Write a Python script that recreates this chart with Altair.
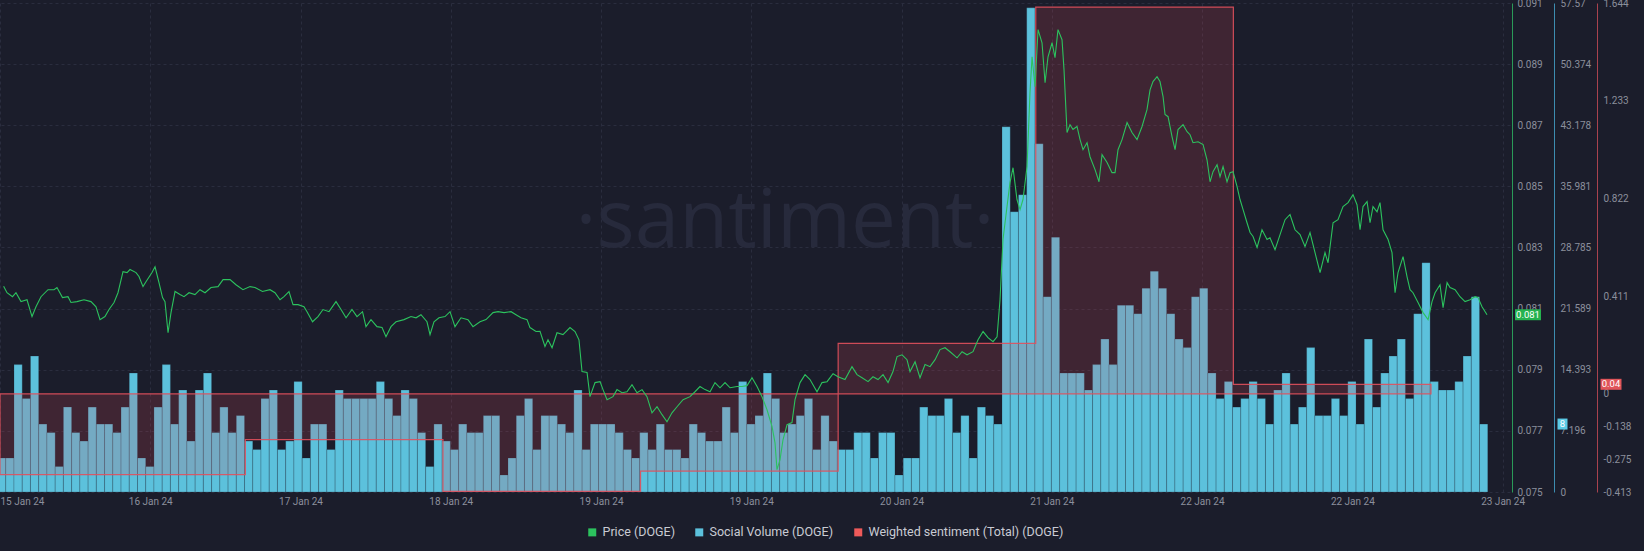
import altair as alt
import pandas as pd

# ---------------- data ----------------
# Social volume (DOGE), hourly bars, first bar = hour 0
volume = [
    4, 4, 15, 11, 16, 8, 7, 3, 10, 7, 6, 10, 8, 8, 7, 10, 14, 4, 3, 10,
    15, 8, 12, 6, 12, 14, 7, 10, 7, 9, 6, 5, 11, 12, 5, 6, 13,
    4, 8, 8, 5, 12, 11, 11, 11, 11, 13, 11, 9, 12, 11, 7, 3, 8, 6, 5,
    8, 7, 7, 9, 9, 2, 4, 9, 11, 5, 9, 9, 8, 7, 12, 5, 8,
    8, 8, 7, 5, 4, 7, 5, 8, 5, 5, 4, 8, 7, 6, 6, 10, 7, 13, 8, 9,
    14, 11, 7, 8, 9, 11, 5, 9, 6, 5, 5, 7, 7, 4, 7, 7, 2,
    4, 4, 10, 9, 9, 11, 7, 9, 4, 10, 9, 8, 43, 33, 35, 57, 41, 23, 30, 14,
    14, 14, 12, 15, 18, 15, 22, 22, 21, 24, 26, 24, 21, 18, 17, 23,
    24, 14, 11, 13, 10, 11, 13, 11, 8, 12, 14, 8, 10, 17, 9, 9, 11, 9, 13, 8,
    18, 10, 14, 16, 18, 11, 21, 27, 13, 12, 12, 13, 16, 23, 8,
]

# Price (DOGE): time in hours since the first bar, price in USD
price_hours = [
    0.24, 0.65, 1.32, 1.74, 2.35, 3.08, 3.69, 4.17, 4.78, 5.63, 6.36, 6.72, 7.39, 8.06, 8.42,
    9.15, 10.00, 10.85, 11.46, 11.95, 12.55, 13.04, 13.65, 14.13, 14.74, 15.23, 15.59, 16.32,
    16.68, 17.17, 17.53, 18.26, 18.63, 19.11, 19.54, 19.84, 20.21, 20.57, 21.06, 21.66, 22.15,
    22.76, 23.48, 24.09, 24.70, 25.43, 26.28, 26.89, 27.74, 28.46, 29.31, 30.17, 30.77, 31.68,
    32.59, 33.20, 33.81, 34.29, 34.90, 35.39, 36.00, 36.72, 37.09, 37.76, 38.42, 39.03, 39.76,
    40.61, 41.22, 41.83, 42.55, 43.16, 43.83, 44.25, 44.86, 45.59, 46.20, 46.68, 47.29, 47.90,
    48.87, 49.72, 50.33, 50.93, 51.66, 52.03, 52.51, 53.12, 53.85, 54.46, 55.06, 55.79, 56.64,
    57.25, 58.10, 58.83, 59.68, 60.29, 61.02, 61.87, 62.47, 63.08, 63.81, 64.17, 64.90,
    65.39, 65.99, 66.36, 66.85, 67.45, 68.18, 69.03, 69.64, 70.12, 70.49, 71.10, 71.46, 72.07,
    72.68, 73.04, 73.53, 74.25, 74.74, 75.35, 75.95, 76.56, 77.17, 77.78, 78.38, 78.99, 79.60,
    80.21, 80.81, 81.42, 82.03, 82.76, 83.61, 84.21, 84.82, 85.43, 86.04, 86.64, 87.25, 87.86,
    88.47, 89.32, 89.92, 90.53, 91.14, 91.75, 92.35, 92.96, 93.57, 93.93, 94.17, 94.54, 94.90,
    95.39, 95.99, 96.36, 96.97, 97.58, 98.18, 99.03, 99.64, 100.25, 100.98, 101.58, 102.43,
    103.28, 103.89, 104.50, 105.23, 105.83, 106.44, 107.05, 107.66, 108.26, 108.75, 109.36,
    109.96, 110.33, 110.94, 111.54, 112.15, 112.76, 113.37, 113.97, 114.58, 115.19, 116.04,
    116.65, 117.25, 117.98, 118.59, 119.20, 119.80, 120.41, 120.90,
    121.26, 121.62, 122.11, 122.47, 122.84, 123.32, 123.69, 124.05, 124.54, 124.90, 125.15,
    125.51, 125.88, 126.36, 126.73, 127.09, 127.58, 127.94, 128.30, 128.79, 129.03, 129.40,
    129.76, 130.12, 130.61, 130.98, 131.34, 131.83, 132.19, 132.80, 133.28, 133.65, 134.26,
    134.86, 135.23, 135.59, 136.08, 136.69, 137.29, 137.90, 138.51, 139.11, 139.48, 139.84,
    140.33, 140.69, 141.06, 141.30, 141.67, 142.15, 142.52, 142.88, 143.49, 143.98, 144.34,
    144.70, 145.31, 145.92, 146.40, 146.77, 147.13, 147.62, 147.98, 148.35, 148.83, 149.20,
    149.56, 150.05, 150.41, 150.78, 151.26, 151.63, 151.99, 152.48, 153.08, 153.69, 154.05,
    154.66, 155.27, 155.88, 156.48, 157.09, 157.70, 158.30, 158.91, 159.52, 160.13, 160.73,
    161.10, 161.71, 162.31, 162.92, 163.53, 164.13, 164.62, 164.99, 165.35, 165.84, 166.20,
    166.56, 167.05, 167.41, 167.78, 168.39, 168.87, 169.24, 169.60, 170.21, 170.69, 171.06,
    171.42, 172.03, 172.64, 173.25, 173.73, 174.10, 174.70, 175.07, 175.56, 175.92, 176.53,
    177.13, 177.74, 178.35, 178.96, 179.32, 179.80, 180.41,
]
price_values = [
    0.08173, 0.08152, 0.08139, 0.08152, 0.08123, 0.08129, 0.08074, 0.08106, 0.08139, 0.08162,
    0.08162, 0.08169, 0.08136, 0.08139, 0.08120, 0.08123, 0.08129, 0.08123, 0.08106, 0.08064,
    0.08074, 0.08097, 0.08120, 0.08152, 0.08221, 0.08218, 0.08228, 0.08218, 0.08205, 0.08172,
    0.08188, 0.08218, 0.08237, 0.08185, 0.08136, 0.08123, 0.08021, 0.08087, 0.08156, 0.08146,
    0.08139, 0.08152, 0.08146, 0.08162, 0.08152, 0.08169, 0.08172, 0.08195, 0.08195, 0.08178,
    0.08162, 0.08172, 0.08169, 0.08156, 0.08162, 0.08152, 0.08129, 0.08139, 0.08156, 0.08113,
    0.08113, 0.08106, 0.08090, 0.08057, 0.08074, 0.08097, 0.08090, 0.08123, 0.08097, 0.08070,
    0.08097, 0.08074, 0.08090, 0.08041, 0.08064, 0.08041, 0.08038, 0.08008, 0.08041, 0.08057,
    0.08064, 0.08074, 0.08070, 0.08080, 0.08057, 0.08015, 0.08057, 0.08070, 0.08074, 0.08090,
    0.08041, 0.08070, 0.08064, 0.08041, 0.08057, 0.08064, 0.08087, 0.08090, 0.08087, 0.08090,
    0.08080, 0.08070, 0.08064, 0.08038, 0.08025,
    0.08026, 0.07976, 0.07998, 0.07972, 0.08021, 0.08015, 0.08038, 0.08025, 0.07998, 0.07894,
    0.07891, 0.07812, 0.07858, 0.07861, 0.07835, 0.07802, 0.07812, 0.07835, 0.07825, 0.07828,
    0.07851, 0.07825, 0.07835, 0.07812, 0.07759, 0.07779, 0.07753, 0.07730, 0.07759, 0.07779,
    0.07802, 0.07812, 0.07828, 0.07845, 0.07835, 0.07828, 0.07858, 0.07841, 0.07858, 0.07841,
    0.07845, 0.07845, 0.07848, 0.07874, 0.07845, 0.07812, 0.07769, 0.07714, 0.07661, 0.07573,
    0.07606, 0.07671, 0.07720, 0.07727, 0.07802, 0.07858, 0.07884, 0.07868, 0.07828, 0.07858,
    0.07861, 0.07887, 0.07877, 0.07868, 0.07910, 0.07884, 0.07874, 0.07861, 0.07877, 0.07868,
    0.07884, 0.07858, 0.07894, 0.07943, 0.07949, 0.07933, 0.07894, 0.07926, 0.07874, 0.07917,
    0.07910, 0.07933, 0.07966, 0.07972, 0.07959, 0.07939, 0.07959, 0.07949, 0.07959, 0.07998,
    0.08025, 0.08005, 0.07992, 0.08008,
    0.08129, 0.08326, 0.08434, 0.08512, 0.08561, 0.08457, 0.08424, 0.08457, 0.08565, 0.08807,
    0.08924, 0.08826, 0.09013, 0.08970, 0.08839, 0.08924, 0.08970, 0.08921, 0.09013, 0.08980,
    0.08882, 0.08676, 0.08702, 0.08686, 0.08696, 0.08653, 0.08620, 0.08643, 0.08597, 0.08555,
    0.08515, 0.08604, 0.08578, 0.08545, 0.08545, 0.08620, 0.08653, 0.08709, 0.08676, 0.08653,
    0.08696, 0.08751, 0.08816, 0.08843, 0.08859, 0.08843, 0.08794, 0.08735, 0.08728, 0.08663,
    0.08620, 0.08686, 0.08702, 0.08679, 0.08669, 0.08643, 0.08646, 0.08637, 0.08587, 0.08515,
    0.08548, 0.08571, 0.08532, 0.08565, 0.08515, 0.08545, 0.08548, 0.08499, 0.08457, 0.08424,
    0.08381, 0.08349, 0.08336, 0.08300, 0.08358, 0.08326, 0.08332, 0.08293, 0.08342, 0.08391,
    0.08408, 0.08358, 0.08342, 0.08303, 0.08349, 0.08283, 0.08218, 0.08283, 0.08250, 0.08381,
    0.08391, 0.08434, 0.08447, 0.08473, 0.08440, 0.08358, 0.08434, 0.08450, 0.08381, 0.08434,
    0.08417, 0.08447, 0.08358, 0.08326, 0.08283, 0.08152, 0.08218, 0.08270, 0.08205, 0.08162,
    0.08152, 0.08120, 0.08087, 0.08064, 0.08123, 0.08152, 0.08178, 0.08103, 0.08185, 0.08169,
    0.08162, 0.08139, 0.08123, 0.08129, 0.08139, 0.08136, 0.08106, 0.08080,
]

# Weighted sentiment (Total): daily steps (start hour of each day, value)
sent_hours = [-0.2, 29.6, 53.6, 77.6, 101.6, 125.6, 149.6, 173.6]
sent_values = [-0.340, -0.193, -0.410, -0.325, 0.212, 1.627, 0.040, 0.040]

# axes
x_tick_hours = [-0.2, 18.05, 36.3, 54.55, 72.8, 91.05, 109.3, 127.55, 145.8, 164.05, 182.3]
x_tick_labels = ["15 Jan 24", "16 Jan 24", "17 Jan 24", "18 Jan 24", "19 Jan 24", "19 Jan 24",
                 "20 Jan 24", "21 Jan 24", "22 Jan 24", "22 Jan 24", "23 Jan 24"]
price_ticks = [0.075, 0.077, 0.079, 0.081, 0.083, 0.085, 0.087, 0.089, 0.091]
volume_ticks = [0, 7.196, 14.393, 21.589, 28.785, 35.981, 43.178, 50.374, 57.57]
sent_ticks = [-0.413, -0.275, -0.138, 0, 0.411, 0.822, 1.233, 1.644]

series_names = ["Price (DOGE)", "Social Volume (DOGE)", "Weighted sentiment (Total) (DOGE)"]

# ---------------- styling ----------------
BG = "#1b1d2b"
GREEN = "#2cc25e"
CYAN = "#5cc1dc"
RED = "#e0505c"
LABEL = "#8b8f9c"
FONT = "Roboto"

W, H = 1510, 489

x_scale = alt.Scale(domain=[-0.2, 183.2], nice=False, zero=False)
label_expr = " : ".join(
    f"abs(datum.value - ({t})) < 0.01 ? '{l}'" for t, l in zip(x_tick_hours, x_tick_labels)
) + " : ''"
x_axis = alt.Axis(values=x_tick_hours, labelExpr=label_expr, title=None, domain=False,
                  ticks=False, tickSize=0, labelPadding=4, labelColor=LABEL, labelFont=FONT,
                  labelFontSize=10, grid=True, gridColor="#2a2d3e", gridDash=[3, 3],
                  labelFlush=1, labelOverlap=False)

price_scale = alt.Scale(domain=[0.075, 0.091], nice=False, zero=False)
vol_scale = alt.Scale(domain=[0, 57.57], nice=False, zero=False)
sent_scale = alt.Scale(domain=[-0.413, 1.644], nice=False, zero=False)

def y_axis(values, offset, color, pad, grid=False):
    return alt.Axis(orient="right", values=values, offset=offset, title=None,
                    labelExpr="'' + datum.value", domainColor=color, domainWidth=1,
                    ticks=False, tickSize=0, labelPadding=pad, labelColor=LABEL,
                    labelFont=FONT, labelFontSize=10, labelFlush=False, labelOverlap=False,
                    grid=grid, gridColor="#2a2d3e", gridDash=[3, 3])

# ---------------- layers ----------------
vol_df = pd.DataFrame({"h": list(range(len(volume))), "v": volume})
price_df = pd.DataFrame({"h": price_hours, "p": price_values})
sent_df = pd.DataFrame({"h": sent_hours, "s": sent_values})

watermark = alt.Chart(pd.DataFrame({"t": ["·santiment·"]})).mark_text(
    fontSize=80, font="Open Sans", color="#272a3c", align="center", baseline="middle"
).encode(x=alt.value(785), y=alt.value(220), text="t:N")

bars = alt.Chart(vol_df).transform_calculate(
    x0="datum.h - 0.5", x1="datum.h + 0.5"
).mark_bar(color=CYAN, clip=True, stroke="#1b1d2b", strokeWidth=0.6, strokeOpacity=0.35).encode(
    x=alt.X("x0:Q", scale=x_scale, axis=x_axis),
    x2="x1:Q",
    y=alt.Y("v:Q", scale=vol_scale, axis=y_axis(volume_ticks, 44, "#3d8db0", 6)),
    y2=alt.datum(0),
)

area = alt.Chart(sent_df).mark_area(
    interpolate="step-after", fill="#e04858", fillOpacity=0.19,
    stroke=RED, strokeWidth=1.2, strokeOpacity=0.9, clip=True
).encode(
    x=alt.X("h:Q", scale=x_scale, axis=x_axis),
    y=alt.Y("s:Q", scale=sent_scale, axis=y_axis(sent_ticks, 87, "#a9424e", 6)),
    y2=alt.datum(0),
)

line = alt.Chart(price_df).mark_line(color=GREEN, strokeWidth=1.1, clip=True).encode(
    x=alt.X("h:Q", scale=x_scale, axis=x_axis),
    y=alt.Y("p:Q", scale=price_scale, axis=y_axis(price_ticks, 2, "#2a9a58", 5, grid=True)),
)

# last-value badges
pb = pd.DataFrame({"p": [price_values[-1]], "t": [f"{price_values[-1]:.3f}"]})
vb = pd.DataFrame({"v": [volume[-1]], "t": [str(volume[-1])]})
sb = pd.DataFrame({"s": [sent_values[-1]], "t": [f"{sent_values[-1]:.2f}"]})

def badge(df, field, scale, cx, w, color):
    box = alt.Chart(df).mark_tick(orient="horizontal", thickness=11, size=w, color=color,
                                  opacity=1).encode(
        x=alt.value(cx), y=alt.Y(f"{field}:Q", scale=scale, axis=None))
    txt = alt.Chart(df).mark_text(color="white", fontSize=9.5, font=FONT, align="center",
                                  baseline="middle").encode(
        x=alt.value(cx), y=alt.Y(f"{field}:Q", scale=scale, axis=None), text="t:N")
    return [box, txt]

badges = (badge(pb, "p", price_scale, 1528, 26, "#25b24f")
          + badge(vb, "v", vol_scale, 1562.5, 10, "#5ccbe6")
          + badge(sb, "s", sent_scale, 1611, 21, "#e0555a"))

legend_df = pd.DataFrame({"name": series_names})
legend_layer = alt.Chart(legend_df).mark_square(opacity=1, size=64).encode(
    x=alt.value(-200), y=alt.value(-200),
    color=alt.Color("name:N", sort=series_names,
                    scale=alt.Scale(domain=series_names, range=[GREEN, CYAN, "#ef5a5a"]),
                    legend=alt.Legend(orient="none", legendX=586, legendY=523,
                                      direction="horizontal", title=None, symbolType="square",
                                      symbolSize=64, symbolStrokeWidth=0, labelFontSize=12.5,
                                      labelFont=FONT, labelColor="#c9cbd3", columnPadding=18,
                                      padding=0, labelOffset=4, labelLimit=400)),
)

chart = alt.layer(watermark, bars, area, line, *badges, legend_layer).resolve_scale(
    y="independent"
).properties(
    width=W, height=H, autosize="none", background=BG,
    padding={"left": 0, "top": 3, "right": 1644 - W, "bottom": 551 - 3 - H},
).configure_view(stroke=None)

chart.save("out.html", embed_options={"renderer": "svg", "actions": False})
